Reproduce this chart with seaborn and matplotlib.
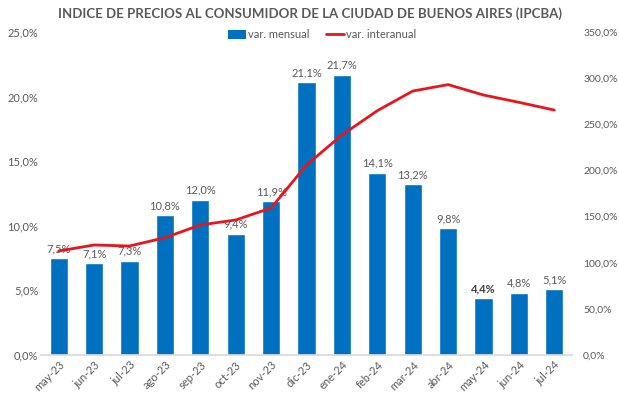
import matplotlib
matplotlib.use("Agg")
import matplotlib.pyplot as plt
import matplotlib.ticker as mticker
from matplotlib.lines import Line2D
from matplotlib.patches import Patch
import numpy as np
import pandas as pd
import seaborn as sns

months = ["may-23", "jun-23", "jul-23", "ago-23", "sep-23", "oct-23", "nov-23",
          "dic-23", "ene-24", "feb-24", "mar-24", "abr-24", "may-24", "jun-24", "jul-24"]
mensual = [7.5, 7.1, 7.3, 10.8, 12.0, 9.4, 11.9, 21.1, 21.7, 14.1, 13.2, 9.8, 4.4, 4.8, 5.1]
interanual = [112.7, 119.2, 118.1, 127.1, 140.9, 146.3, 159.3, 205.9, 238.4,
              264.7, 286.0, 293.0, 281.7, 273.8, 265.4]

df = pd.DataFrame({"mes": months, "mensual": mensual, "interanual": interanual})
df["pos"] = np.arange(len(df))

sns.set_theme(style="white")
plt.rcParams["font.family"] = ["Lato", "DejaVu Sans"]

BLUE = "#0070C0"
RED = "#E8161C"
GRAY = "#595959"

fig = plt.figure(figsize=(6.19, 3.94), dpi=100)
ax = fig.add_axes([41/619, 1-355/394, (572-41)/619, (355-32)/394])

sns.barplot(data=df, x="mes", y="mensual", color=BLUE, saturation=1, width=0.51, ax=ax)
ax.set_xlim(-0.5, len(df)-0.5)
ax.set_ylim(0, 25)
ax.set_yticks(np.arange(0, 26, 5))
ax.yaxis.set_major_formatter(mticker.FuncFormatter(lambda v, p: f"{v:.1f}%".replace(".", ",")))
labels = [f"{v:.1f}%".replace(".", ",") for v in df["mensual"]]
txts = ax.bar_label(ax.containers[0], labels=labels, padding=3, fontsize=8, color=GRAY)
for t, v in zip(txts, df["mensual"]):
    if abs(v - 4.4) < 1e-9:
        t.set_fontweight("bold")
        t.set_color("#404040")
ax.set_xlabel("")
ax.set_ylabel("")
for s in ["left", "right", "top"]:
    ax.spines[s].set_visible(False)
ax.spines["bottom"].set_color("#D9D9D9")
ax.tick_params(axis="y", length=0, labelsize=8, labelcolor=GRAY, pad=2)
ax.tick_params(axis="x", length=0, labelsize=8, labelcolor=GRAY, pad=3)
for lab in ax.get_xticklabels():
    lab.set_rotation(45)
    lab.set_ha("right")
    lab.set_rotation_mode("anchor")

ax2 = ax.twinx()
sns.lineplot(data=df, x="pos", y="interanual", color=RED, linewidth=2.0, ax=ax2, legend=False)
ax2.set_ylim(0, 350)
ax2.set_yticks(np.arange(0, 351, 50))
ax2.yaxis.set_major_formatter(mticker.FuncFormatter(lambda v, p: f"{v:.1f}%".replace(".", ",")))
ax2.set_xlim(-0.5, len(df)-0.5)
ax2.set_ylabel("")
ax2.set_xlabel("")
for s in ["left", "right", "top", "bottom"]:
    ax2.spines[s].set_visible(False)
ax2.tick_params(axis="y", length=0, labelsize=7.5, labelcolor=GRAY, pad=8)

fig.text(0.5, 1-14/394, "INDICE DE PRECIOS AL CONSUMIDOR DE LA CIUDAD DE BUENOS AIRES (IPCBA)",
         ha="center", va="center", fontsize=9.5, fontweight="bold", color=GRAY)

handles = [Patch(facecolor=BLUE, edgecolor="none"), Line2D([0], [0], color=RED, lw=2)]
fig.legend(handles, ["var. mensual", "var. interanual"], loc="center",
           bbox_to_anchor=(322/619, 1-35/394), ncol=2, frameon=False, fontsize=8,
           labelcolor=GRAY, handlelength=1.6, handletextpad=0.2, columnspacing=1.5,
           handleheight=0.8)

fig.savefig("out.png", dpi=100)
